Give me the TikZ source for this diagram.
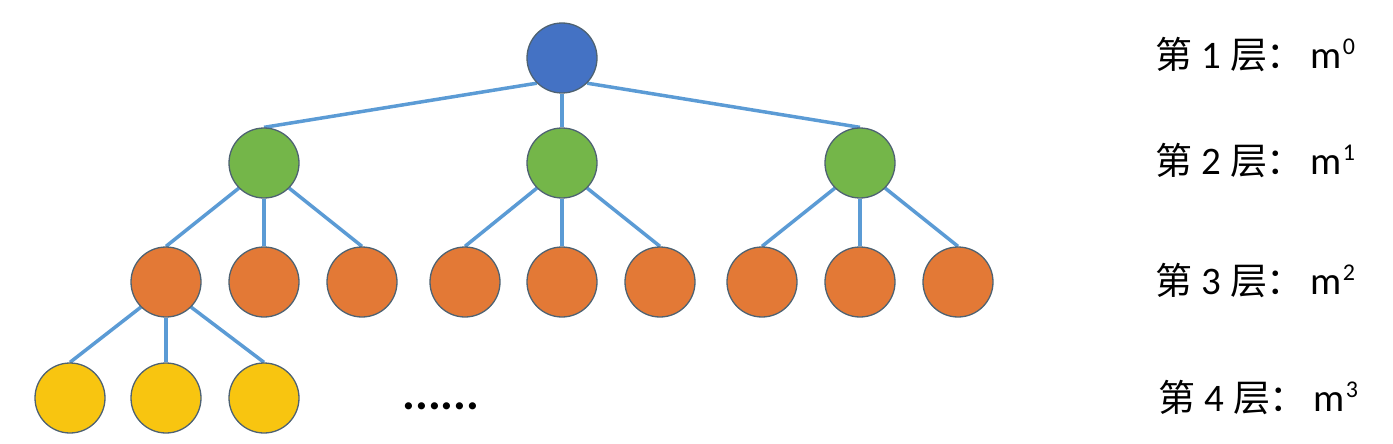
\documentclass[tikz,border=0pt]{standalone}
\usepackage{fontspec}
\usetikzlibrary{backgrounds}
\setmainfont{Carlito}
\newfontfamily\cjk{Noto Sans CJK SC}
\definecolor{cblue}{HTML}{4472C4}
\definecolor{cgreen}{HTML}{74B649}
\definecolor{corange}{HTML}{E37936}
\definecolor{cyellow}{HTML}{F8C510}
\definecolor{cedge}{HTML}{5B9BD5}
\definecolor{cborder}{HTML}{4E6272}
\tikzset{
  treenode/.style={circle,minimum size=70pt,inner sep=0pt,draw=cborder,line width=1.3pt},
  lvone/.style={treenode,fill=cblue},
  lvtwo/.style={treenode,fill=cgreen},
  lvthree/.style={treenode,fill=corange},
  lvfour/.style={treenode,fill=cyellow},
  link/.style={draw=cedge,line width=3.5pt},
  lvlabel/.style={anchor=base west,inner sep=0pt,font=\fontsize{39}{44}\selectfont}
}
\newcommand{\cjkbig}[1]{{\fontsize{37}{42}\selectfont\cjk #1}}
\newcommand{\lvtext}[2]{\makebox[46.5pt][l]{\cjkbig{第}}\makebox[28.5pt][l]{#1}\makebox[36pt][l]{\cjkbig{层}}\makebox[44.5pt][l]{\cjkbig{：}}m\hspace{1pt}\raisebox{14pt}{\fontsize{24}{24}\selectfont #2}}
\begin{document}
\begin{tikzpicture}[x=1pt,y=-1pt]
\useasboundingbox (0,0) rectangle (1393,444);
\node[lvone] (r) at (562,58) {};
\node[lvtwo] (a) at (264,163) {};
\node[lvtwo] (b) at (562,163) {};
\node[lvtwo] (c) at (860,163) {};
\node[lvthree] (a1) at (166,282) {};
\node[lvthree] (a2) at (264,282) {};
\node[lvthree] (a3) at (362,282) {};
\node[lvthree] (b1) at (465,282) {};
\node[lvthree] (b2) at (562,282) {};
\node[lvthree] (b3) at (660,282) {};
\node[lvthree] (c1) at (762,282) {};
\node[lvthree] (c2) at (860,282) {};
\node[lvthree] (c3) at (958,282) {};
\node[lvfour] (d1) at (70,398) {};
\node[lvfour] (d2) at (166,398) {};
\node[lvfour] (d3) at (264,398) {};
\begin{scope}[on background layer]
\draw[link] (r.south west) -- (a.north);
\draw[link] (r.south) -- (b.north);
\draw[link] (r.south east) -- (c.north);
\draw[link] (a.south west) -- (a1.north);
\draw[link] (a.south) -- (a2.north);
\draw[link] (a.south east) -- (a3.north);
\draw[link] (b.south west) -- (b1.north);
\draw[link] (b.south) -- (b2.north);
\draw[link] (b.south east) -- (b3.north);
\draw[link] (c.south west) -- (c1.north);
\draw[link] (c.south) -- (c2.north);
\draw[link] (c.south east) -- (c3.north);
\draw[link] (a1.south west) -- (d1.north);
\draw[link] (a1.south) -- (d2.north);
\draw[link] (a1.south east) -- (d3.north);
\end{scope}
\node[anchor=base,inner sep=0pt,font=\fontsize{48}{52}\bfseries\selectfont] (dots) at (441,409) {......};
\node[lvlabel] (l1) at (1155,69) {\lvtext{1}{0}};
\node[lvlabel] (l2) at (1155,174) {\lvtext{2}{1}};
\node[lvlabel] (l3) at (1155,294) {\lvtext{3}{2}};
\node[lvlabel] (l4) at (1158,411) {\lvtext{4}{3}};
\end{tikzpicture}
\end{document}
